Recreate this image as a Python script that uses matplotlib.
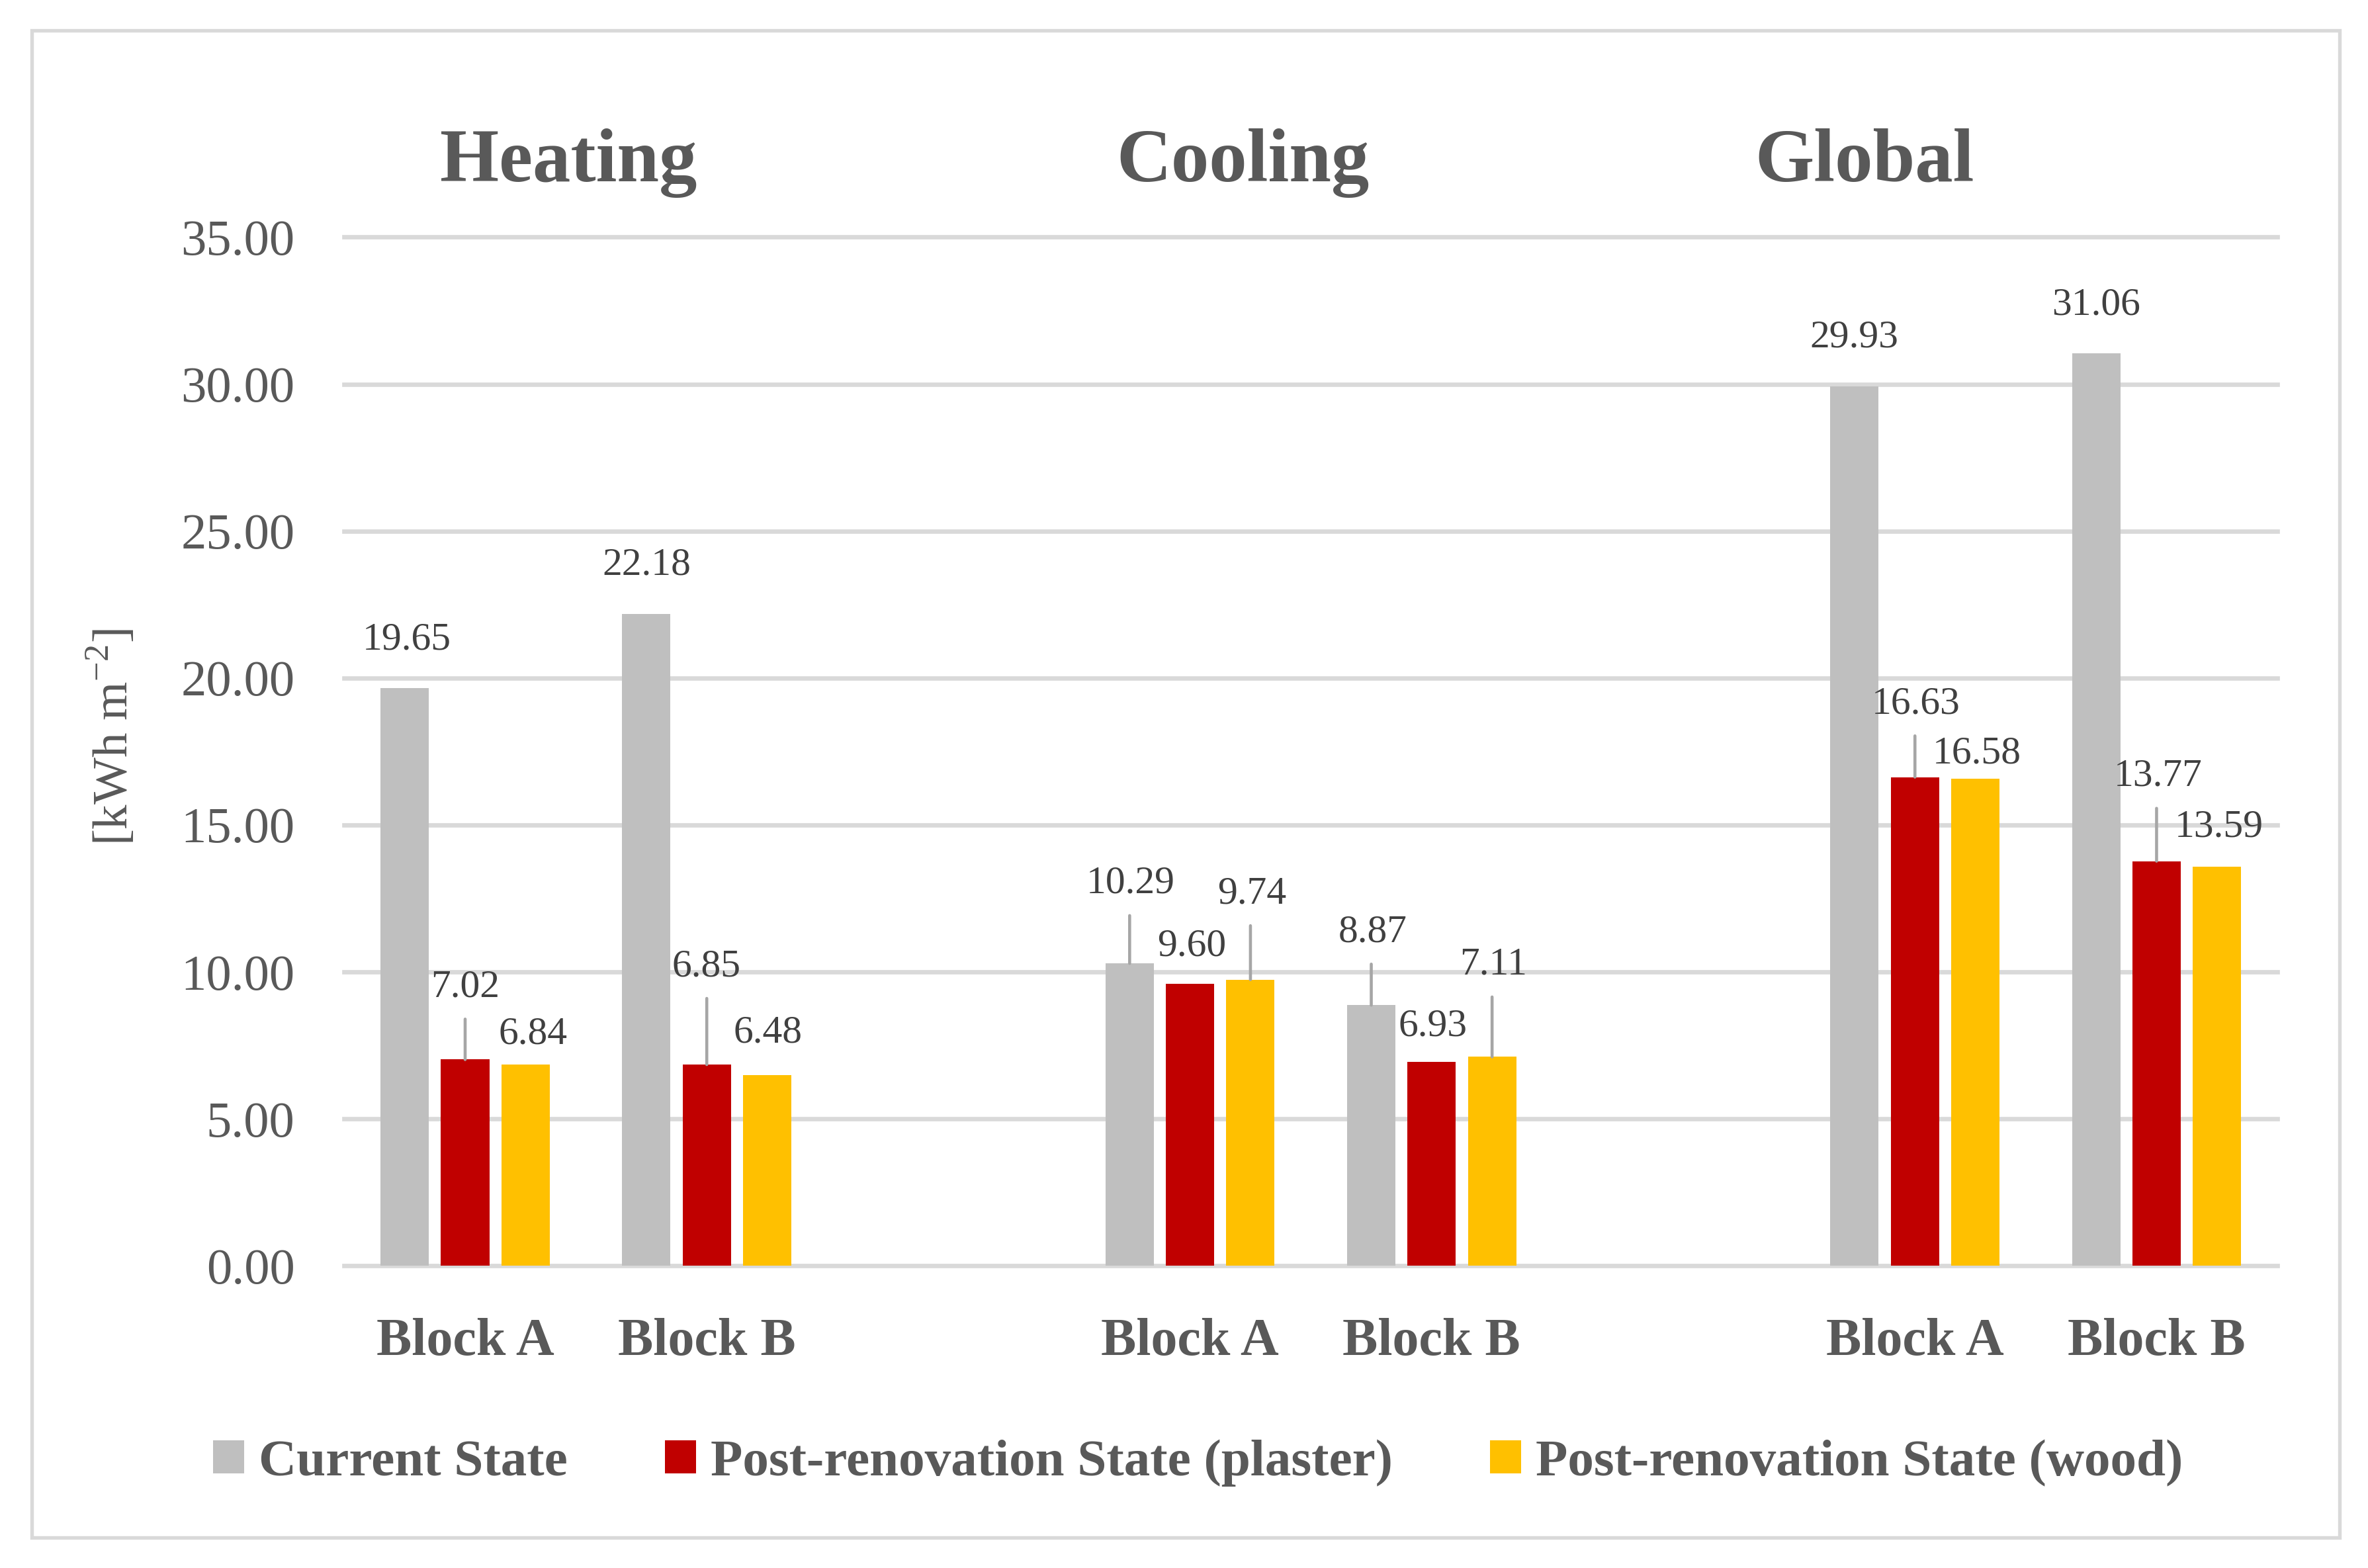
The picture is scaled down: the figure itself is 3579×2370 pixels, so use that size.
import matplotlib
matplotlib.use("Agg")
import matplotlib.pyplot as plt
from matplotlib.patches import Patch, Rectangle
import numpy as np

plt.rcParams['font.family'] = ['Liberation Serif', 'DejaVu Serif']

# ---------------- data ----------------
groups = ["Heating", "Cooling", "Global"]
blocks = ["Block A", "Block B", "Block A", "Block B", "Block A", "Block B"]
series_names = ["Current State", "Post-renovation State (plaster)", "Post-renovation State (wood)"]
current_state = [19.65, 22.18, 10.29, 8.87, 29.93, 31.06]
plaster_state = [7.02, 6.85, 9.60, 6.93, 16.63, 13.77]
wood_state = [6.84, 6.48, 9.74, 7.11, 16.58, 13.59]
y_ticks = [0, 5, 10, 15, 20, 25, 30, 35]
y_label = "[kWh m$^{\\mathregular{-2}}$]"

# ---------------- style ----------------
colors = ["#BFBFBF", "#C00000", "#FFC000"]
text_col = "#595959"
label_col = "#404040"
grid_col = "#D9D9D9"
leader_col = "#A6A6A6"

# slot positions (gap slot between groups)
slots = [0, 1, 3, 4, 6, 7]
offsets = [-0.25, 0.0, 0.25]
bar_w = 0.2

# label offsets in reference pixels (dx, dy above bar top)
label_off = [
    [(1.4, 31.8), (0.2, 32.2), (0.8, 52.7), (0.9, 48.2), (-0.2, 32.0), (-0.1, 31.6)],
    [(0.2, 47.8), (-0.2, 64.8), (1.0, 24.6), (0.8, 23.6), (0.6, 48.3), (0.9, 56.0)],
    [(4.8, 20.1), (0.5, 28.1), (1.0, 56.7), (0.8, 60.7), (0.9, 16.3), (1.5, 25.7)],
]
PX = 3579 / 1568 * 72 / 300  # reference px -> points

W, H = 1568.0, 1038.0
fig = plt.figure(figsize=(3579 / 300, 2370 / 300), dpi=300)
ax = fig.add_axes([228 / W, 1 - 838 / H, (1508 - 228) / W, (838 - 157) / H])

all_series = [current_state, plaster_state, wood_state]
for si, (vals, col, off) in enumerate(zip(all_series, colors, offsets)):
    xs = [s + off for s in slots]
    ax.bar(xs, vals, width=bar_w, color=col, zorder=3, label=series_names[si])
    for ci, (x, v) in enumerate(zip(xs, vals)):
        dx, dy = label_off[si][ci]
        ax.annotate(f"{v:.2f}", xy=(x, v), xytext=(dx * PX, dy * PX),
                    textcoords="offset points", ha="center", va="center",
                    fontsize=14.3, color=label_col, zorder=5, annotation_clip=False)
        if dy > 40:
            ax.annotate("", xy=(x, v), xytext=(0, (dy - 21) * PX),
                        textcoords="offset points",
                        arrowprops=dict(arrowstyle="-", color=leader_col, lw=1.1,
                                        shrinkA=0, shrinkB=0),
                        zorder=4, annotation_clip=False)

ax.set_xlim(-0.5, 7.5)
ax.set_ylim(0, 35)
ax.set_yticks(y_ticks)
ax.set_yticklabels([f"{t:.2f}" for t in y_ticks])
ax.tick_params(axis="y", length=0, pad=18, labelsize=18.4, labelcolor=text_col)
ax.set_xticks([])
for sp in ax.spines.values():
    sp.set_visible(False)
ax.yaxis.grid(True, color=grid_col, linewidth=1.6, zorder=0)
ax.set_axisbelow(True)
for gl in ax.get_ygridlines():
    gl.set_clip_on(False)

# category labels
trans = matplotlib.transforms.blended_transform_factory(ax.transData, fig.transFigure)
for s, b in zip(slots, blocks):
    ax.text(s, 1 - 897 / H, b, transform=trans, ha="center", va="baseline",
            fontsize=19.2, fontweight="bold", color=text_col)

# group titles
for gx, g in zip([376.5, 823, 1234.5], groups):
    fig.text(gx / W, 1 - 120 / H, g, ha="center", va="baseline",
             fontsize=27.5, fontweight="bold", color=text_col)

# y label
fig.text(74.5 / W, 1 - 488 / H, y_label, rotation=90, ha="center", va="center",
         fontsize=18, color=text_col)

# legend
handles = [Patch(facecolor=c, edgecolor="none") for c in colors]
fig.legend(handles, series_names, loc="center", bbox_to_anchor=(793.3 / W, 1 - 968.5 / H),
           ncol=3, frameon=False, handlelength=0.6, handleheight=0.6,
           handletextpad=0.28, columnspacing=1.85,
           prop={"family": ["Liberation Serif"], "weight": "bold", "size": 19.0},
           labelcolor=text_col)

# outer border
fig.patches.append(Rectangle((21 / W, 1 - 1018 / H), (1549 - 21) / W, (1018 - 20) / H,
                             transform=fig.transFigure, fill=False,
                             edgecolor=grid_col, linewidth=1.3))

fig.savefig("out.png", dpi=300, facecolor="white")
